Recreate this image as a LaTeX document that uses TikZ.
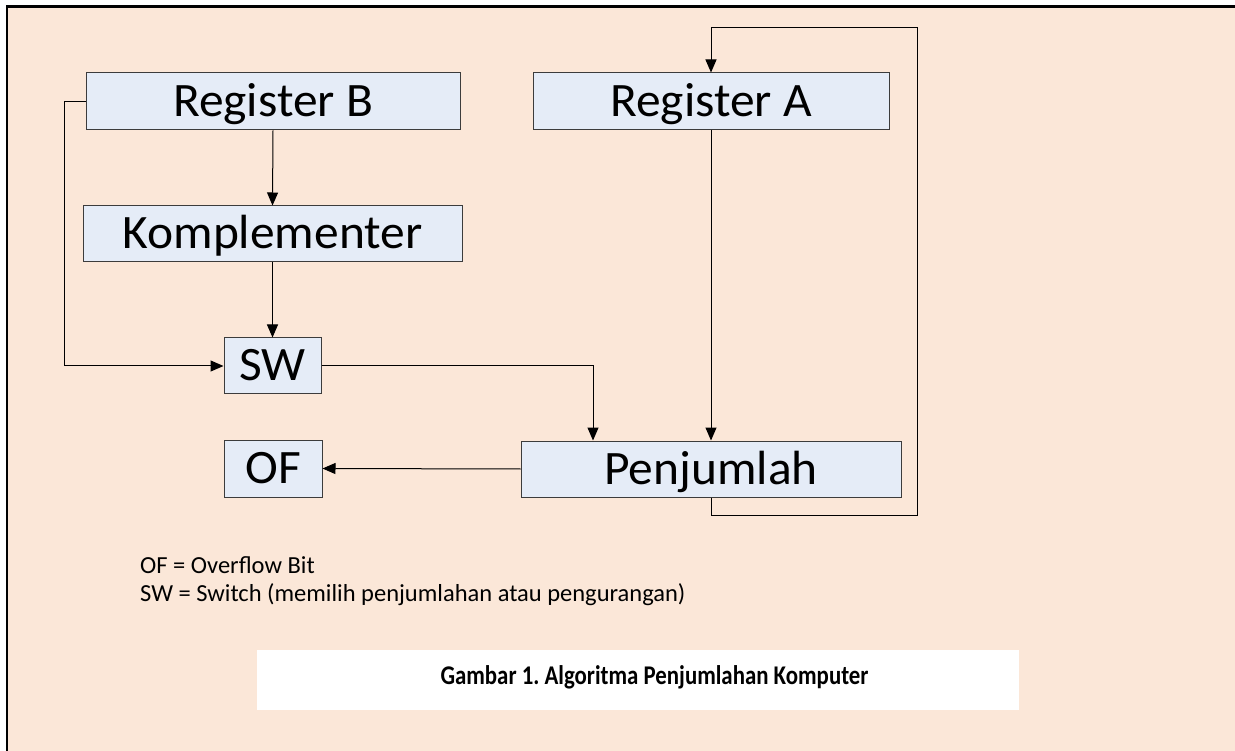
\documentclass[tikz,border=0pt]{standalone}
\usepackage{fontspec}
\usepackage{graphicx}
\setmainfont{Carlito}
\frenchspacing
\usetikzlibrary{arrows.meta}
\definecolor{paper}{RGB}{251,231,216}
\definecolor{boxfill}{RGB}{229,236,247}
\definecolor{boxline}{RGB}{60,60,60}
\newcommand{\unitlabel}[1]{\scalebox{1.03}[1]{#1}}
\tikzset{
  unit/.style={draw=boxline, fill=boxfill, line width=1pt, inner sep=0pt,
    font=\fontsize{48}{52}\selectfont, text height=30pt, text depth=0pt},
  flow/.style={draw=black, line width=1pt, -{Triangle[length=13pt,width=11pt]}},
  legend/.style={anchor=base west, inner sep=0pt, font=\fontsize{24.5}{28}\selectfont},
}
\begin{document}
\begin{tikzpicture}[x=1pt, y=-1pt]
  \useasboundingbox (0,0) rectangle (1235,751);
  \fill[white] (0,0) rectangle (1235,751);
  \fill[paper] (7,6.5) rectangle (1235,751);
  \draw[line width=2.2pt] (7,751) -- (7,6.5) -- (1235,6.5);

  % processing units
  \node[unit, minimum width=374pt, minimum height=57pt] (rb) at (273,101.5) {\unitlabel{Register B}};
  \node[unit, minimum width=356pt, minimum height=57pt] (ra) at (711,101.5) {\unitlabel{Register A}};
  \node[unit, minimum width=379pt, minimum height=56pt] (kp) at (272.5,234) {\unitlabel{Komplementer}};
  \node[unit, minimum width=97pt, minimum height=56pt] (sw) at (272.5,366) {\unitlabel{SW}};
  \node[unit, minimum width=98pt, minimum height=57pt] (of) at (273,468.5) {\unitlabel{OF}};
  \node[unit, minimum width=380pt, minimum height=56pt] (pj) at (711,469) {\unitlabel{Penjumlah}};

  % data paths
  \draw[flow] (rb.south) -- (kp.north);
  \draw[flow] (kp.south) -- (sw.north);
  \draw[flow] (rb.west) -- ++(-21,0) |- (sw.west);
  \draw[flow] (sw.east) -| ([xshift=-118pt]pj.north);
  \draw[flow] (ra.south) -- (pj.north);
  \draw[flow] (pj.west) -- (of.east);
  \draw[flow] (pj.south) -- ++(0,18) -| ++(206,-488) -| (ra.north);

  % legend
  \node[legend] (l1) at (140,573.5) {OF = Overflow Bit};
  \node[legend] (l2) at (140,601.5) {SW = Switch (memilih penjumlahan atau pengurangan)};

  % caption
  \fill[white] (257,650) rectangle (1019,710);
  \node[anchor=base, inner sep=0pt, font=\fontsize{27}{30}\selectfont\bfseries] (cap) at (654.5,684)
    {\scalebox{0.846}[1]{Gambar 1. Algoritma Penjumlahan Komputer}};
\end{tikzpicture}
\end{document}
